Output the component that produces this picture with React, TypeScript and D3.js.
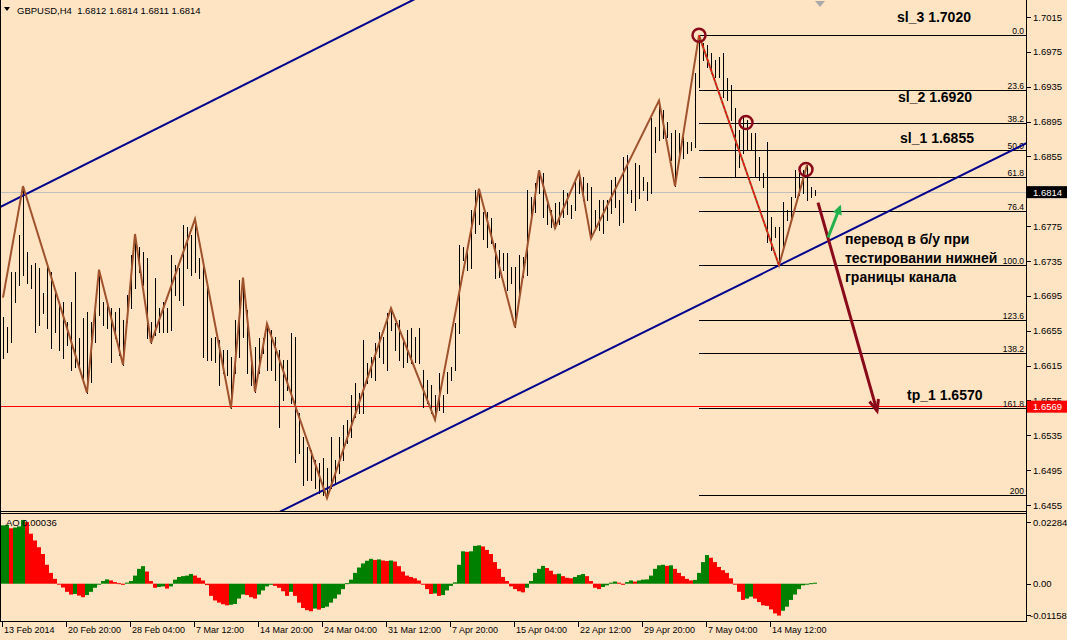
import * as d3 from 'd3';

// GBPUSD H4 bar chart with ZigZag, Fibo grid, channel and AO panel
const SYMBOL = 'GBPUSD,H4';
const LAST_OHLC = ['1.6812', '1.6814', '1.6811', '1.6814'];
const CURRENT_PRICE = 1.6814;
const TP_LINE = 1.6569;

const BAR_HIGH = [
  1.6671, 1.6659, 1.6722, 1.6722, 1.6765, 1.6821, 1.6745, 1.6730, 1.6733, 1.6727,
  1.6698, 1.6733, 1.6722, 1.6699, 1.6687, 1.6688, 1.6665, 1.6688, 1.6722, 1.6647,
  1.6670, 1.6676, 1.6665, 1.6684, 1.6725, 1.6688, 1.6688, 1.6681, 1.6676, 1.6681,
  1.6667, 1.6696, 1.6742, 1.6766, 1.6751, 1.6745, 1.6738, 1.6665, 1.6715, 1.6681,
  1.6688, 1.6681, 1.6742, 1.6730, 1.6727, 1.6776, 1.6774, 1.6765, 1.6783, 1.6738,
  1.6734, 1.6707, 1.6647, 1.6648, 1.6644, 1.6633, 1.6633, 1.6625, 1.6667, 1.6713,
  1.6716, 1.6679, 1.6625, 1.6636, 1.6647, 1.6647, 1.6663, 1.6656, 1.6648, 1.6633,
  1.6621, 1.6621, 1.6652, 1.6648, 1.6561, 1.6533, 1.6522, 1.6518, 1.6507, 1.6503,
  1.6509, 1.6497, 1.6533, 1.6507, 1.6533, 1.6547, 1.6553, 1.6581, 1.6595, 1.6584,
  1.6644, 1.6618, 1.6625, 1.6641, 1.6654, 1.6648, 1.6675, 1.6681, 1.6664, 1.6667,
  1.6644, 1.6656, 1.6658, 1.6648, 1.6658, 1.6610, 1.6598, 1.6593, 1.6581, 1.6606,
  1.6581, 1.6608, 1.6613, 1.6664, 1.6753, 1.6751, 1.6751, 1.6794, 1.6816, 1.6818,
  1.6791, 1.6791, 1.6784, 1.6756, 1.6748, 1.6744, 1.6744, 1.6728, 1.6728, 1.6742,
  1.6740, 1.6816, 1.6808, 1.6824, 1.6839, 1.6836, 1.6805, 1.6794, 1.6802, 1.6803,
  1.6816, 1.6813, 1.6799, 1.6828, 1.6837, 1.6831, 1.6824, 1.6820, 1.6794, 1.6805,
  1.6805, 1.6805, 1.6828, 1.6831, 1.6805, 1.6854, 1.6857, 1.6816, 1.6847, 1.6845,
  1.6831, 1.6826, 1.6899, 1.6889, 1.6919, 1.6908, 1.6894, 1.6882, 1.6885, 1.6882,
  1.6877, 1.6872, 1.6872, 1.6951, 1.6994, 1.6985, 1.6983, 1.6974, 1.6966, 1.6969,
  1.6974, 1.6945, 1.6937, 1.6911, 1.6885, 1.6900, 1.6897, 1.6882, 1.6882, 1.6854,
  1.6836, 1.6872, 1.6785, 1.6774, 1.6774, 1.6803, 1.6794, 1.6808, 1.6839, 1.6836,
  1.6839, 1.6845, 1.6820, 1.6816,
];

const BAR_LOW = [
  1.6624, 1.6631, 1.6642, 1.6688, 1.6707, 1.6719, 1.6710, 1.6704, 1.6654, 1.6662,
  1.6675, 1.6658, 1.6635, 1.6654, 1.6633, 1.6624, 1.6639, 1.6610, 1.6613, 1.6612,
  1.6601, 1.6584, 1.6596, 1.6642, 1.6673, 1.6662, 1.6658, 1.6619, 1.6647, 1.6627,
  1.6616, 1.6665, 1.6681, 1.6704, 1.6722, 1.6707, 1.6647, 1.6641, 1.6650, 1.6654,
  1.6654, 1.6654, 1.6656, 1.6696, 1.6690, 1.6684, 1.6727, 1.6719, 1.6722, 1.6715,
  1.6625, 1.6621, 1.6621, 1.6619, 1.6593, 1.6606, 1.6604, 1.6566, 1.6606, 1.6625,
  1.6648, 1.6606, 1.6593, 1.6585, 1.6606, 1.6629, 1.6610, 1.6610, 1.6598, 1.6544,
  1.6575, 1.6587, 1.6572, 1.6504, 1.6515, 1.6478, 1.6484, 1.6484, 1.6474, 1.6469,
  1.6466, 1.6463, 1.6474, 1.6480, 1.6492, 1.6507, 1.6526, 1.6533, 1.6556, 1.6561,
  1.6561, 1.6595, 1.6602, 1.6598, 1.6625, 1.6618, 1.6610, 1.6656, 1.6633, 1.6621,
  1.6613, 1.6619, 1.6618, 1.6619, 1.6618, 1.6567, 1.6572, 1.6561, 1.6553, 1.6564,
  1.6562, 1.6584, 1.6598, 1.6610, 1.6652, 1.6736, 1.6725, 1.6727, 1.6767, 1.6778,
  1.6760, 1.6751, 1.6756, 1.6715, 1.6717, 1.6725, 1.6702, 1.6710, 1.6659, 1.6698,
  1.6717, 1.6719, 1.6780, 1.6791, 1.6813, 1.6785, 1.6778, 1.6774, 1.6773, 1.6778,
  1.6785, 1.6789, 1.6784, 1.6794, 1.6813, 1.6805, 1.6805, 1.6761, 1.6773, 1.6771,
  1.6767, 1.6782, 1.6790, 1.6797, 1.6776, 1.6780, 1.6813, 1.6803, 1.6794, 1.6807,
  1.6816, 1.6805, 1.6813, 1.6860, 1.6874, 1.6876, 1.6877, 1.6851, 1.6821, 1.6854,
  1.6853, 1.6859, 1.6862, 1.6866, 1.6935, 1.6966, 1.6958, 1.6951, 1.6946, 1.6946,
  1.6923, 1.6920, 1.6897, 1.6831, 1.6843, 1.6859, 1.6862, 1.6862, 1.6831, 1.6828,
  1.6820, 1.6757, 1.6748, 1.6763, 1.6730, 1.6751, 1.6782, 1.6782, 1.6808, 1.6811,
  1.6813, 1.6805, 1.6808, 1.6811,
];

// Awesome Oscillator, one value per bar
const AO_VALUES = [
  0.0216, 0.0218, 0.0205, 0.0208, 0.0212, 0.0236, 0.0228, 0.0185, 0.0160, 0.0135,
  0.0110, 0.0070, 0.0040, 0.0018, -0.0002, -0.0014, -0.0030, -0.0040, -0.0038, -0.0044,
  -0.0050, -0.0042, -0.0030, -0.0015, -0.0002, 0.0010, 0.0016, 0.0012, 0.0006, 0.0002,
  -0.0004, 0.0004, 0.0010, 0.0030, 0.0055, 0.0065, 0.0045, 0.0010, -0.0015, -0.0012,
  -0.0010, -0.0018, -0.0010, 0.0015, 0.0025, 0.0028, 0.0030, 0.0036, 0.0030, 0.0022,
  0.0012, -0.0005, -0.0045, -0.0062, -0.0070, -0.0076, -0.0080, -0.0078, -0.0075, -0.0055,
  -0.0040, -0.0042, -0.0050, -0.0055, -0.0040, -0.0025, -0.0010, -0.0004, -0.0008, -0.0015,
  -0.0028, -0.0045, -0.0030, -0.0045, -0.0070, -0.0090, -0.0098, -0.0102, -0.0092, -0.0096,
  -0.0090, -0.0085, -0.0070, -0.0055, -0.0040, -0.0020, 0.0002, 0.0015, 0.0040, 0.0060,
  0.0075, 0.0085, 0.0092, 0.0088, 0.0090, 0.0086, 0.0084, 0.0086, 0.0082, 0.0065,
  0.0045, 0.0030, 0.0025, 0.0020, 0.0012, -0.0002, -0.0020, -0.0038, -0.0036, -0.0045,
  -0.0042, -0.0025, -0.0008, 0.0005, 0.0070, 0.0120, 0.0118, 0.0120, 0.0140, 0.0142,
  0.0138, 0.0125, 0.0110, 0.0080, 0.0055, 0.0025, 0.0010, -0.0010, -0.0020, -0.0028,
  -0.0032, -0.0015, 0.0010, 0.0040, 0.0055, 0.0066, 0.0058, 0.0048, 0.0035, 0.0037,
  0.0028, 0.0022, 0.0020, 0.0025, 0.0032, 0.0036, 0.0028, 0.0010, -0.0015, -0.0020,
  -0.0012, -0.0006, 0.0004, 0.0008, 0.0004, -0.0004, 0.0006, 0.0012, 0.0008, 0.0012,
  0.0015, 0.0016, 0.0030, 0.0055, 0.0068, 0.0070, 0.0066, 0.0068, 0.0055, 0.0040,
  0.0028, 0.0018, 0.0012, 0.0014, 0.0040, 0.0080, 0.0106, 0.0096, 0.0080, 0.0062,
  0.0050, 0.0040, 0.0020, -0.0002, -0.0030, -0.0060, -0.0055, -0.0048, -0.0055, -0.0068,
  -0.0080, -0.0082, -0.0095, -0.0110, -0.0118, -0.0100, -0.0085, -0.0060, -0.0040, -0.0020,
  -0.0006, -0.0002, 0.0002, 0.00036,
];

const ZIGZAG: [number, number][] = [
  [0, 1.6693], [5, 1.6821], [21, 1.6584], [24, 1.6725], [30, 1.6616], [33, 1.6766],
  [37, 1.6641], [48, 1.6783], [57, 1.6566], [60, 1.6716], [63, 1.6585], [66, 1.6663],
  [81, 1.6463], [97, 1.6681], [108, 1.6553], [119, 1.6818], [128, 1.6659], [134, 1.6839],
  [138, 1.6773], [144, 1.6837], [147, 1.6761], [164, 1.6919], [168, 1.6821], [174, 1.6994],
  [194, 1.6730], [201, 1.6845],
];

const FIBO_START = 174;
const FIBO_END = 194;
const FIBO_HIGH = 1.6994;
const FIBO_LOW = 1.6730;
const FIBO_LEVELS = [0, 23.6, 38.2, 50, 61.8, 76.4, 100, 123.6, 138.2, 161.8, 200];
const FIBO_LABELS = ['0.0', '23.6', '38.2', '50.0', '61.8', '76.4', '100.0', '123.6', '138.2', '161.8', '200'];

const CHANNEL_LOWER: [number, number][] = [[81, 1.6474], [194, 1.6730]];
const CHANNEL_UPPER: [number, number][] = [[5, 1.6810], [81, 1.6985]];

const CIRCLES: [number, number][] = [[174, 1.6994], [185.75, 1.6894], [200.75, 1.6840]];
const SELL_ARROW: [number, number][] = [[203.75, 1.6802], [218.5, 1.6563]];
const BE_ARROW: [number, number][] = [[206.25, 1.6762], [209.25, 1.6797]];

const PRICE_TICKS = [
  1.7015, 1.6975, 1.6935, 1.6895, 1.6855, 1.6815, 1.6775, 1.6735, 1.6695,
  1.6655, 1.6615, 1.6575, 1.6535, 1.6495, 1.6455,
];
const AO_TICKS = [0.02284, 0, -0.01158];
const AO_TICK_LABELS = ['0.02284', '0.00', '-0.01158'];
const TIME_LABELS = [
  '13 Feb 2014', '20 Feb 20:00', '28 Feb 04:00', '7 Mar 12:00', '14 Mar 20:00',
  '24 Mar 04:00', '31 Mar 12:00', '7 Apr 20:00', '15 Apr 04:00', '22 Apr 12:00',
  '29 Apr 20:00', '7 May 04:00', '14 May 12:00',
];
const BARS_PER_LABEL = 16;

const FONT = '"Liberation Sans", Arial, sans-serif';
const BG = '#ffe4c4';

export default function App() {
  const W = 1067;
  const H = 640;
  const axisX = 1026;
  const mainBottom = 512;
  const aoTop = 514;
  const aoBottom = 621;

  const x = d3.scaleLinear().domain([0, 1]).range([3, 7]);
  const y = d3.scaleLinear().domain([1.6455, 1.7015]).range([505, 17]);
  const aoY = d3.scaleLinear().domain([-0.01158, 0.02284]).range([615, 522]);
  const px = (v: number) => Math.round(v) + 0.5;

  const zigLine = d3.line<[number, number]>().x(d => x(d[0])).y(d => y(d[1]));

  const extend = (pts: [number, number][]) => {
    const [a, b] = pts;
    const k = (b[1] - a[1]) / (b[0] - a[0]);
    const i0 = -10, i1 = 270;
    return { x1: x(i0), y1: y(a[1] + k * (i0 - a[0])), x2: x(i1), y2: y(a[1] + k * (i1 - a[0])) };
  };
  const lower = extend(CHANNEL_LOWER);
  const upper = extend(CHANNEL_UPPER);

  const fiboPrice = (lvl: number) => FIBO_HIGH - (FIBO_HIGH - FIBO_LOW) * lvl / 100;

  const arrow = (pts: [number, number][]) => {
    const x1 = x(pts[0][0]), y1 = y(pts[0][1]);
    const x2 = x(pts[1][0]), y2 = y(pts[1][1]);
    const ang = Math.atan2(y2 - y1, x2 - x1);
    return { x1, y1, x2, y2, ang };
  };
  const sell = arrow(SELL_ARROW);
  const be = arrow(BE_ARROW);
  const barbs = (a: ReturnType<typeof arrow>, len: number, spread: number) => {
    const p1 = [a.x2 - len * Math.cos(a.ang - spread), a.y2 - len * Math.sin(a.ang - spread)];
    const p2 = [a.x2 - len * Math.cos(a.ang + spread), a.y2 - len * Math.sin(a.ang + spread)];
    return `M${p1[0]},${p1[1]}L${a.x2},${a.y2}L${p2[0]},${p2[1]}`;
  };

  const zeroY = aoY(0);

  return (
    <svg width={W} height={H} style={{ position: 'absolute', left: 0, top: 0, background: BG }}
      fontFamily={FONT}>
      <rect x={0} y={0} width={W} height={H} fill={BG} />
      <defs>
        <clipPath id="mainClip"><rect x={1} y={0} width={axisX - 1} height={mainBottom - 0.5} /></clipPath>
        <clipPath id="aoClip"><rect x={1} y={aoTop + 0.5} width={axisX - 1} height={aoBottom - aoTop - 0.5} /></clipPath>
      </defs>

      {/* main panel */}
      <g clipPath="url(#mainClip)">
        <line x1={0} x2={axisX} y1={px(y(CURRENT_PRICE))} y2={px(y(CURRENT_PRICE))} stroke="#c0c0c0" />
        <line x1={0} x2={axisX} y1={px(y(TP_LINE))} y2={px(y(TP_LINE))} stroke="#ff0000" />

        {FIBO_LEVELS.map((lvl, k) => (
          <g key={lvl}>
            <line x1={x(FIBO_START)} x2={axisX} y1={px(y(fiboPrice(lvl)))} y2={px(y(fiboPrice(lvl)))}
              stroke="#000" />
            <text x={axisX - 2} y={px(y(fiboPrice(lvl))) - 2} fontSize={8.5} textAnchor="end" fill="#000">
              {FIBO_LABELS[k]}
            </text>
          </g>
        ))}

        {BAR_HIGH.map((h, i) => (
          <line key={i} x1={px(x(i))} x2={px(x(i))} y1={Math.round(y(h))} y2={Math.round(y(BAR_LOW[i])) + 1}
            stroke="#000" strokeWidth={1} />
        ))}

        <line {...upper} stroke="#00008b" strokeWidth={2} />
        <line {...lower} stroke="#00008b" strokeWidth={2} />

        <path d={zigLine(ZIGZAG) || ''} fill="none" stroke="#a0522d" strokeWidth={2} />
        <line x1={x(FIBO_START)} y1={y(FIBO_HIGH)} x2={x(FIBO_END)} y2={y(FIBO_LOW)}
          stroke="#ff0000" strokeWidth={1.2} strokeDasharray="3,2" />

        {CIRCLES.map((c, k) => (
          <circle key={k} cx={x(c[0])} cy={y(c[1])} r={6.5} fill="none" stroke="#8b0a1a" strokeWidth={2.5} />
        ))}

        <line x1={sell.x1} y1={sell.y1} x2={sell.x2} y2={sell.y2} stroke="#8b0a1a" strokeWidth={3} />
        <path d={barbs(sell, 12, 0.4)} fill="none" stroke="#8b0a1a" strokeWidth={3} />
        <line x1={be.x1} y1={be.y1} x2={be.x2} y2={be.y2} stroke="#22b14c" strokeWidth={3} />
        <path d={barbs(be, 7, 0.45) + 'Z'} fill="#22b14c" stroke="#22b14c" strokeWidth={2} />

        <g fontWeight="bold" fontSize={14} fill="#000">
          <text x={897} y={22}>sl_3 1.7020</text>
          <text x={898} y={102}>sl_2 1.6920</text>
          <text x={900} y={143}>sl_1 1.6855</text>
          <text x={907} y={400}>tp_1 1.6570</text>
          <text x={845} y={244}>перевод в б/у при</text>
          <text x={845} y={263}>тестировании нижней</text>
          <text x={845} y={282}>границы канала</text>
        </g>
      </g>

      {/* header */}
      <path d="M4,7L10,7L7,11Z" fill="#000" />
      <text x={17} y={14} fontSize={9.5} fill="#000" style={{ whiteSpace: 'pre' }}>
        {`${SYMBOL}  ${LAST_OHLC.join(' ')}`}
      </text>
      <path d="M815,1L825,1L820,7Z" fill="#a9a9a9" />

      {/* AO panel */}
      <g clipPath="url(#aoClip)">
        {AO_VALUES.map((v, i) => {
          const up = i === 0 || v > AO_VALUES[i - 1];
          const y0 = Math.min(aoY(v), zeroY);
          return (
            <rect key={i} x={x(i) - 2} y={y0} width={4} height={Math.max(1, Math.abs(aoY(v) - zeroY))}
              fill={up ? '#008000' : '#ff0000'} />
          );
        })}
      </g>
      <text x={6} y={526} fontSize={9.5} fill="#000">AO 0.00036</text>

      {/* frames */}
      <g stroke="#000" strokeWidth={1} shapeRendering="crispEdges">
        <line x1={0.5} x2={0.5} y1={0} y2={aoBottom + 0.5} />
        <line x1={axisX + 0.5} x2={axisX + 0.5} y1={0} y2={aoBottom + 0.5} />
        <line x1={0} x2={axisX + 1} y1={mainBottom - 0.5} y2={mainBottom - 0.5} />
        <line x1={0} x2={axisX + 1} y1={aoTop - 0.5} y2={aoTop - 0.5} />
        <line x1={0} x2={axisX + 1} y1={aoBottom + 0.5} y2={aoBottom + 0.5} />
      </g>

      {/* price axis */}
      {PRICE_TICKS.map(p => (
        <g key={p}>
          <line x1={axisX + 1} x2={axisX + 5} y1={px(y(p))} y2={px(y(p))} stroke="#000" />
          <text x={1033} y={y(p) + 3.5} fontSize={9.5} fill="#000">{p.toFixed(4)}</text>
        </g>
      ))}
      <rect x={axisX + 1} y={y(CURRENT_PRICE) - 6} width={40} height={12} fill="#000" />
      <text x={1033} y={y(CURRENT_PRICE) + 3.5} fontSize={9.5} fill="#fff">{CURRENT_PRICE.toFixed(4)}</text>
      <rect x={axisX + 1} y={y(TP_LINE) - 5} width={40} height={12} fill="#ff0000" />
      <text x={1033} y={y(TP_LINE) + 4.5} fontSize={9.5} fill="#fff">{TP_LINE.toFixed(4)}</text>

      {/* AO axis */}
      {AO_TICKS.map((v, k) => (
        <g key={k}>
          <line x1={axisX + 1} x2={axisX + 5} y1={px(aoY(v))} y2={px(aoY(v))} stroke="#000" />
          <text x={v < 0 ? 1030 : 1033} y={aoY(v) + 3.5} fontSize={9.5} fill="#000">{AO_TICK_LABELS[k]}</text>
        </g>
      ))}

      {/* time axis */}
      {TIME_LABELS.map((t, k) => {
        const tx = x(k * BARS_PER_LABEL) - 1;
        return (
          <g key={t}>
            <line x1={px(tx)} x2={px(tx)} y1={aoBottom + 1} y2={aoBottom + 6} stroke="#000" />
            <text x={tx + 2} y={633} fontSize={9} fill="#000">{t}</text>
          </g>
        );
      })}
    </svg>
  );
}
